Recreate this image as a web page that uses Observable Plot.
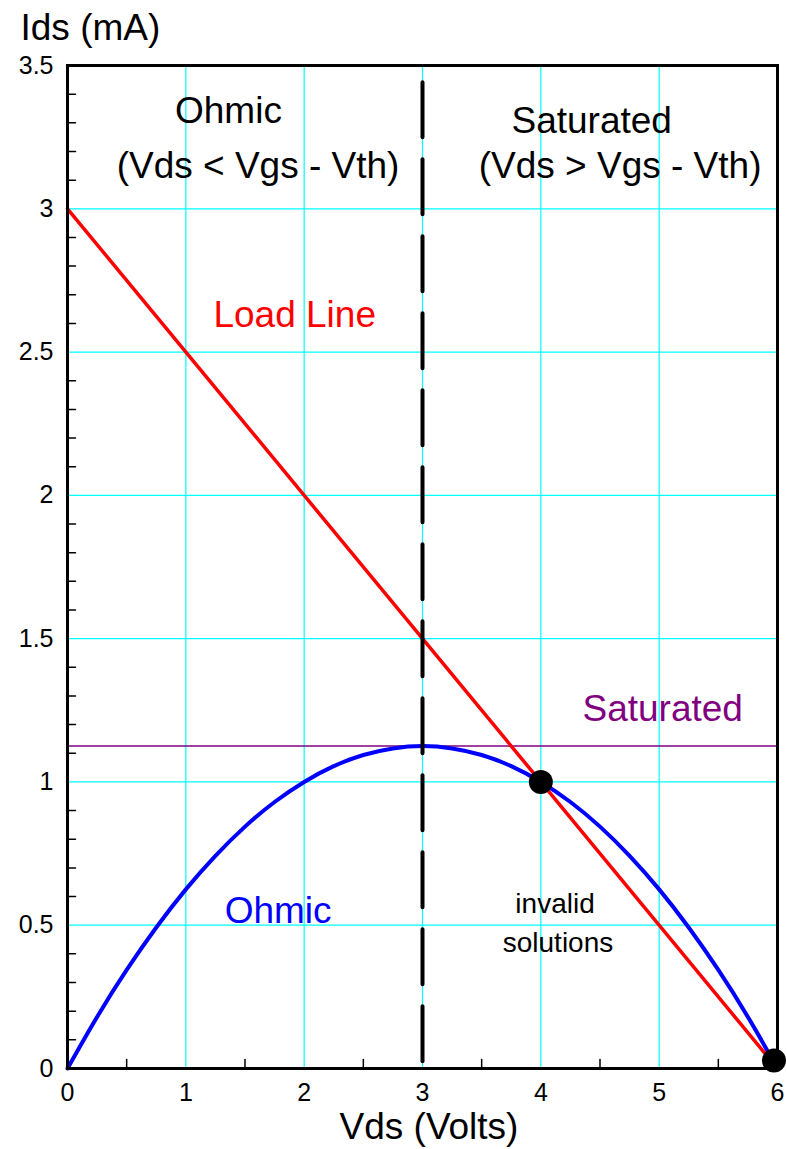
<!DOCTYPE html>
<html>
<head>
<meta charset="utf-8">
<script src="https://cdn.jsdelivr.net/npm/d3@7"></script>
<script src="https://cdn.jsdelivr.net/npm/@observablehq/plot@0.6"></script>
<style>
  html, body { margin: 0; padding: 0; background: #fff; }
  #chart svg { display: block; }
</style>
</head>
<body>
<div id="chart"></div>
<script>
// MOSFET operating point: drain current vs drain-source voltage
const xTicks = [0, 1, 2, 3, 4, 5, 6];
const yTicks = [0, 0.5, 1, 1.5, 2, 2.5, 3, 3.5];
const xMinor = [0.5, 1.5, 2.5, 3.5, 4.5, 5.5];
const yMinor = d3.range(1, 35).map(i => i / 10).filter(v => Math.abs(v * 2 - Math.round(v * 2)) > 1e-9);

// Load line (Vds, Ids)
const loadVds = [0, 6];
const loadIds = [3, 0];

// Ohmic-region curve (Vds, Ids)
const ohmicVds = [0, 0.25, 0.5, 0.75, 1, 1.25, 1.5, 1.75, 2, 2.25, 2.5, 2.75, 3,
                  3.25, 3.5, 3.75, 4, 4.25, 4.5, 4.75, 5, 5.25, 5.5, 5.75, 6];
const ohmicIds = [0, 0.180, 0.344, 0.492, 0.625, 0.742, 0.844, 0.930, 1.0, 1.055, 1.094, 1.117, 1.125,
                  1.117, 1.094, 1.055, 1.0, 0.930, 0.844, 0.742, 0.625, 0.492, 0.344, 0.180, 0];

// Saturation current level and region boundary (Vds = Vgs - Vth)
const satIds = 1.125;
const boundaryVds = 3;

// Intersection points
const solVds = [4, 5.97];
const solIds = [1, 0.028];

const load = loadVds.map((v, i) => ({vds: v, ids: loadIds[i]}));
const ohmic = ohmicVds.map((v, i) => ({vds: v, ids: ohmicIds[i]}));
const sols = solVds.map((v, i) => ({vds: v, ids: solIds[i]}));

const font = "'Liberation Sans', Arial, Helvetica, sans-serif";
const tickLine = {draw(ctx, l) { ctx.moveTo(0, 0); ctx.lineTo(0, -l); }};

const note = (text, x, y, fill, fontSize) =>
  Plot.text([text], {x: () => x, y: () => y, text: d => d, fill, fontSize,
                     textAnchor: "middle", lineAnchor: "bottom"});

const chart = Plot.plot({
  width: 787,
  height: 1149,
  marginTop: 65,
  marginRight: 10,
  marginBottom: 81,
  marginLeft: 67,
  style: {fontFamily: font, background: "#fff", overflow: "visible"},
  x: {domain: [0, 6]},
  y: {domain: [0, 3.5]},
  marks: [
    Plot.gridX(xTicks.slice(1, -1), {stroke: "#00ffff", strokeOpacity: 1, strokeWidth: 1.2}),
    Plot.gridY(yTicks.slice(1, -1), {stroke: "#00ffff", strokeOpacity: 1, strokeWidth: 1.2}),
    Plot.axisX(xTicks, {tickSize: 0, tickPadding: 15, tickFormat: String, fontSize: 25, fill: "#000", label: null}),
    Plot.axisY(yTicks, {tickSize: 0, tickPadding: 14, tickFormat: String, fontSize: 25, fill: "#000", label: null}),
    // inward minor ticks
    Plot.vector(xMinor, {x: d => d, y: () => 0, length: 9, rotate: 0, anchor: "start", shape: tickLine, stroke: "#000", strokeWidth: 1.5}),
    Plot.vector(yMinor, {x: () => 0, y: d => d, length: 8, rotate: 90, anchor: "start", shape: tickLine, stroke: "#000", strokeWidth: 1.5}),
    Plot.ruleY([satIds], {stroke: "#800080", strokeWidth: 1.5}),
    Plot.line(ohmic, {x: "vds", y: "ids", stroke: "#0000ff", strokeWidth: 4, curve: "natural"}),
    Plot.line(load, {x: "vds", y: "ids", stroke: "#ff0000", strokeWidth: 3.5}),
    Plot.ruleX([boundaryVds], {y1: 3.44, y2: 0, stroke: "#000", strokeWidth: 4, strokeDasharray: "55,22", strokeLinecap: "round"}),
    Plot.dot(sols, {x: "vds", y: "ids", r: 12, fill: "#000"}),
    Plot.frame({stroke: "#000", strokeWidth: 3}),
    // region and curve annotations
    note("Ohmic", 1.36, 3.298, "#000", 37),
    note("(Vds < Vgs - Vth)", 1.61, 3.106, "#000", 37),
    note("Saturated", 4.43, 3.263, "#000", 37),
    note("(Vds > Vgs - Vth)", 4.67, 3.107, "#000", 37),
    note("Load Line", 1.92, 2.586, "#ff0000", 37),
    note("Saturated", 5.03, 1.214, "#800080", 37),
    note("Ohmic", 1.78, 0.506, "#0000ff", 37),
    note("invalid", 4.12, 0.541, "#000", 28),
    note("solutions", 4.145, 0.408, "#000", 28),
    // axis titles
    Plot.text(["Ids (mA)"], {frameAnchor: "top-left", text: d => d, dx: -47, dy: -26, textAnchor: "start", lineAnchor: "bottom", fontSize: 37, fill: "#000"}),
    Plot.text(["Vds (Volts)"], {frameAnchor: "bottom", text: d => d, dx: 6.5, dy: 70, textAnchor: "middle", lineAnchor: "bottom", fontSize: 37, fill: "#000"})
  ]
});

document.getElementById("chart").append(chart);
</script>
</body>
</html>
